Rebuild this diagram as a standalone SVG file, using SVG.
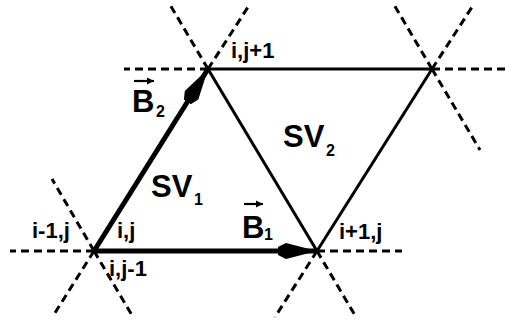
<svg xmlns="http://www.w3.org/2000/svg" width="507" height="324" viewBox="0 0 507 324">
<style>
  .dash { stroke:#000; stroke-width:3; stroke-dasharray:8 5; fill:none; }
  .thin { stroke:#000; stroke-width:3; fill:none; }
  .thick { stroke:#000; stroke-width:5; fill:none; }
  .lbl { font-family:"Liberation Sans", Arial, sans-serif; font-weight:bold; font-size:22px; fill:#000; }
  .big { font-family:"Liberation Sans", Arial, sans-serif; font-weight:bold; font-size:31px; fill:#000; }
  .sub { font-family:"Liberation Sans", Arial, sans-serif; font-weight:bold; font-size:16px; fill:#000; }
  .vec { stroke:#000; stroke-width:2.2; fill:none; }
</style>
<defs>
  <marker id="head" markerUnits="userSpaceOnUse" markerWidth="42" markerHeight="20" viewBox="0 -10 42 20" refX="39" refY="0" orient="auto">
    <path d="M0,-4 L8,-8 L39,0 L8,8 L0,4 Z" fill="#000"/>
  </marker>
  <marker id="vhead" markerUnits="userSpaceOnUse" markerWidth="8" markerHeight="8" viewBox="0 -4 8 8" refX="7" refY="0" orient="auto">
    <path d="M0,-3.5 L7,0 L0,3.5 Z" fill="#000"/>
  </marker>
</defs>
<rect width="507" height="324" fill="#fff"/>
<g id="connectors">
  <!-- dashed lattice continuations -->
  <line class="dash" x1="94" y1="251" x2="10" y2="251"/>
  <line class="dash" x1="94" y1="251" x2="52" y2="179"/>
  <line class="dash" x1="94" y1="251" x2="133" y2="317"/>
  <line class="dash" x1="94" y1="251" x2="53" y2="316"/>
  <line class="dash" x1="317" y1="251" x2="402" y2="251"/>
  <line class="dash" x1="317" y1="251" x2="275" y2="317"/>
  <line class="dash" x1="317" y1="251" x2="356" y2="317"/>
  <line class="dash" x1="208" y1="69" x2="124" y2="69"/>
  <line class="dash" x1="208" y1="69" x2="169" y2="3"/>
  <line class="dash" x1="208" y1="69" x2="250" y2="4"/>
  <line class="dash" x1="432" y1="69" x2="507" y2="69"/>
  <line class="dash" x1="432" y1="69" x2="393" y2="3"/>
  <line class="dash" x1="432" y1="69" x2="474" y2="4"/>
  <line class="dash" x1="432" y1="69" x2="480" y2="150"/>
  <!-- solid edges -->
  <line class="thin" x1="208" y1="69" x2="432" y2="69"/>
  <line class="thin" x1="208" y1="69" x2="317" y2="251"/>
  <line class="thin" x1="317" y1="251" x2="432" y2="69"/>
  <!-- basis vectors -->
  <line id="B1" class="thick" x1="94" y1="251" x2="317" y2="251" marker-end="url(#head)"/>
  <line id="B2" class="thick" x1="94" y1="251" x2="208" y2="69" marker-end="url(#head)"/>
  <!-- connector labels -->
  <g id="label-B2">
    <text class="big" x="132" y="112">B</text>
    <text class="sub" x="156" y="117">2</text>
    <line class="vec" x1="134" y1="81" x2="154" y2="81" marker-end="url(#vhead)"/>
  </g>
  <g id="label-B1">
    <text class="big" x="242" y="238">B</text>
    <text class="sub" x="264" y="240">1</text>
    <line class="vec" x1="244" y1="204" x2="263" y2="204" marker-end="url(#vhead)"/>
  </g>
</g>
<g id="cell-SV1">
  <text class="big" x="151" y="197">SV</text>
  <text class="sub" x="194" y="205">1</text>
</g>
<g id="cell-SV2">
  <text class="big" x="283" y="147">SV</text>
  <text class="sub" x="326" y="156">2</text>
</g>
<g id="node-i-j">
  <text class="lbl" x="32" y="238">i-1,j</text>
  <text class="lbl" x="117" y="238">i,j</text>
  <text class="lbl" x="109" y="276">i,j-1</text>
</g>
<g id="node-i1-j">
  <text class="lbl" x="339" y="239">i+1,j</text>
</g>
<g id="node-i-j1">
  <text class="lbl" x="231" y="58">i,j+1</text>
</g>
<g id="node-i1-j1"></g>
</svg>
